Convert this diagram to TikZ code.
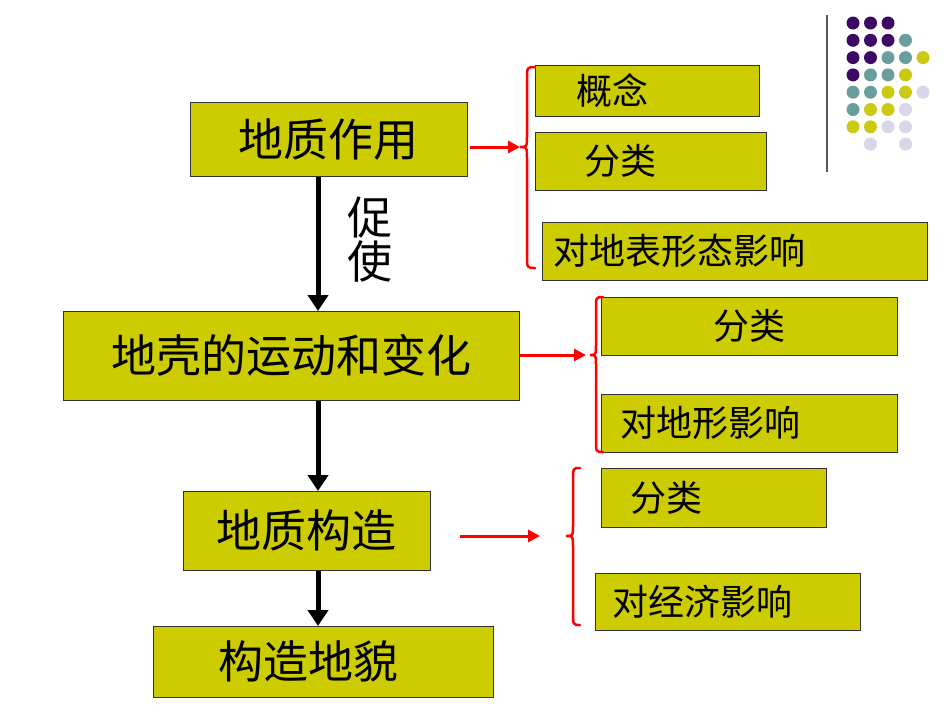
\documentclass[tikz,border=0pt]{standalone}
\usepackage{fontspec}
\setmainfont{Noto Sans CJK SC}
\usetikzlibrary{arrows.meta}
\definecolor{boxc}{HTML}{CCCC00}
\definecolor{dP}{HTML}{3C0A64}
\definecolor{dT}{HTML}{6A9E9C}
\definecolor{dY}{HTML}{CACA10}
\definecolor{dL}{HTML}{D9D6EA}
\definecolor{dN}{HTML}{FFFFFF}
\tikzset{
 bx/.style={draw=black!80,fill=boxc,line width=0.6pt,inner sep=0pt},
 big/.style={font=\fontsize{45}{50}\selectfont},
 sm/.style={font=\fontsize{36}{40}\selectfont},
 blk/.style={line width=5pt,-{Triangle[length=16pt,width=20pt]}},
 redar/.style={red,line width=3pt,-{Triangle[length=12pt,width=12pt]}},
 brc/.style={red,line width=2.5pt,line cap=round},
}
\newcommand{\bxat}[5]{\node[bx,anchor=north west,minimum width=#3-#1,minimum height=#4-#2] (#5) at (#1,#2) {};}
\begin{document}
\begin{tikzpicture}[x=1pt,y=-1pt]
\useasboundingbox[fill=white] (0,0) rectangle (950,713);
% left boxes
\bxat{190}{102}{467}{176}{A}
\node[big] (tA) at (A.center) {地质作用};
\bxat{63}{311}{519}{400}{B}
\node[big] (tB) at (B.center) {地壳的运动和变化};
\bxat{183}{491}{430}{570}{C}
\node[big] (tC) at (C.center) {地质构造};
\bxat{153}{626}{493}{697}{D}
\node[big] (tD) at ([xshift=-15pt]D.center) {构造地貌};
% right boxes
\bxat{535}{65}{759}{116}{r1}
\node[sm,anchor=west] (t1) at ([xshift=38pt]r1.west) {概念};
\bxat{535}{132}{766}{190}{r2}
\node[sm,anchor=west] (t2) at ([xshift=46pt]r2.west) {分类};
\bxat{542}{222}{927}{280}{r3}
\node[sm,anchor=west] (t3) at ([xshift=8pt]r3.west) {对地表形态影响};
\bxat{601}{297}{897}{355}{r4}
\node[sm] (t4) at (r4.center) {分类};
\bxat{601}{394}{897}{452}{r5}
\node[sm,anchor=west] (t5) at ([xshift=16pt]r5.west) {对地形影响};
\bxat{601}{468}{826}{527}{r6}
\node[sm,anchor=west] (t6) at ([xshift=26pt]r6.west) {分类};
\bxat{595}{573}{860}{630}{r7}
\node[sm,anchor=west] (t7) at ([xshift=14pt]r7.west) {对经济影响};
% black arrows
\draw[blk] (A.south -| 318,0) -- (B.north -| 318,0);
\draw[blk] (B.south -| 318,0) -- (C.north -| 318,0);
\draw[blk] (C.south -| 318,0) -- (D.north -| 318,0);
\node[big,align=center,inner sep=0pt] (cs) at (370,240) {促\\[-6pt]使};
% red arrows
\coordinate (b1) at (520,147);
\coordinate (b2) at (586,355);
\coordinate (b3) at (540,536);
\draw[redar] (470,147) -- (b1);
\draw[redar] (B.east |- 0,355) -- (b2);
\draw[redar] (460,536) -- (b3);
% braces
\draw[brc] (535,67) .. controls (527,67) .. (527,80) -- (527,135) .. controls (527,147) .. (520,147) .. controls (527,147) .. (527,160) -- (527,255) .. controls (527,268) .. (535,268);
\draw[brc] (603,297) .. controls (596,297) .. (596,310) -- (596,343) .. controls (596,355) .. (590,355) .. controls (596,355) .. (596,367) -- (596,440) .. controls (596,452) .. (603,452);
\draw[brc] (580,468) .. controls (573,468) .. (573,481) -- (573,524) .. controls (573,536) .. (566,536) .. controls (573,536) .. (573,548) -- (573,612) .. controls (573,625) .. (580,625);
% decoration
\draw[gray!70!black,line width=1.2pt] (827,15) -- (827,172);
\foreach \row [count=\r from 0] in {{P,P,P,N,N},{P,P,P,T,N},{P,P,T,T,Y},{P,T,T,Y,N},{T,T,Y,Y,L},{T,Y,Y,L,N},{Y,Y,L,L,N},{N,L,N,L,N}}{
  \foreach \c [count=\k from 0] in \row {
      \fill[color=d\c] ({853+17.5*\k},{23+17.3*\r}) circle (6.5);
  }
}
\end{tikzpicture}
\end{document}
